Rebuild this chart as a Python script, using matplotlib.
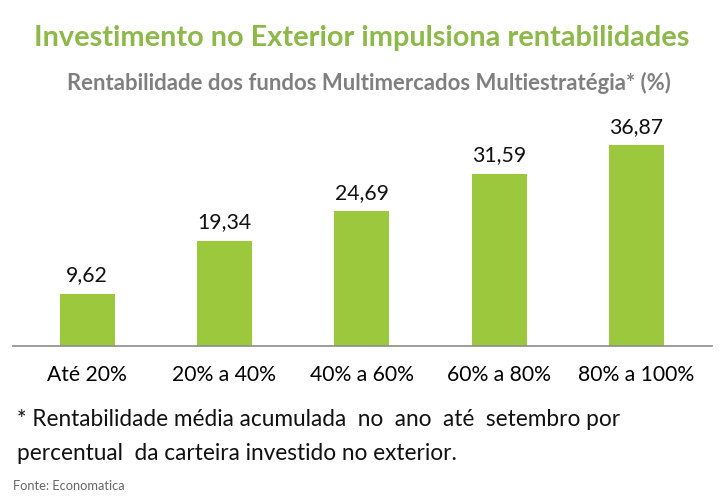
import matplotlib.pyplot as plt

categories = ["Até 20%", "20% a 40%", "40% a 60%", "60% a 80%", "80% a 100%"]
values = [9.62, 19.34, 24.69, 31.59, 36.87]
value_labels = ["9,62", "19,34", "24,69", "31,59", "36,87"]

plt.rcParams['font.family'] = ['Lato', 'DejaVu Sans']

fig = plt.figure(figsize=(7.24, 5.04), dpi=100)
ax = fig.add_axes([13 / 724, 1 - 346 / 504, (712 - 13) / 724, 218 / 504])

x = range(len(categories))
bars = ax.bar(x, values, width=0.4, color='#9BC83C', zorder=2)
for b, lab in zip(bars, value_labels):
    ax.annotate(lab, (b.get_x() + b.get_width() / 2, b.get_height()),
                xytext=(0, 6), textcoords='offset points',
                ha='center', va='bottom', fontsize=15.3, color='#111111')

ax.set_xlim(-0.54, 4.55)
ax.set_ylim(0, 40)
ax.set_xticks(list(x))
ax.set_xticklabels(categories, fontsize=15.2)
ax.tick_params(axis='x', length=0, pad=14)
ax.set_yticks([])
for s in ['top', 'right', 'left']:
    ax.spines[s].set_visible(False)
ax.spines['bottom'].set_color('#8C8C8C')
ax.spines['bottom'].set_linewidth(1.2)

fig.text(0.5, 1 - 38 / 504, "Investimento no Exterior impulsiona rentabilidades",
         ha='center', va='center', fontsize=20.8, fontweight='bold', color='#8DB84A')
fig.text(369 / 724, 1 - 83 / 504, "Rentabilidade dos fundos Multimercados Multiestratégia* (%)",
         ha='center', va='center', fontsize=15.9, fontweight='bold', color='#7F7F7F')

fig.text(17 / 724, 1 - 419 / 504, "* Rentabilidade média acumulada  no  ano  até  setembro por",
         ha='left', va='center', fontsize=16.3, color='#111111')
fig.text(17 / 724, 1 - 453 / 504, "percentual  da carteira investido no exterior.",
         ha='left', va='center', fontsize=16.3, color='#111111')
fig.text(13 / 724, 1 - 486 / 504, "Fonte: Economatica",
         ha='left', va='center', fontsize=9.3, color='#666666')

fig.savefig('out.png', dpi=100)
